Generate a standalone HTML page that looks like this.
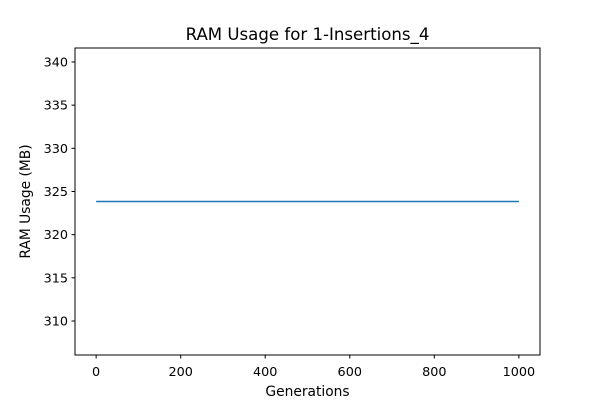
<!DOCTYPE html>
<html><head><meta charset="utf-8"><style>
body{margin:0;background:#fff;}
svg{display:block;font-family:"DejaVu Sans","Liberation Sans",sans-serif;}
</style></head><body>
<svg id="chart" width="600" height="400">
<rect x="0" y="0" width="600" height="400" fill="#fff"/>
<text x="307.5" y="40" text-anchor="middle" font-size="16.6">RAM Usage for 1-Insertions_4</text>
<g id="ticks"></g>
<path id="series" fill="none" stroke="#1f77b4" stroke-width="1.5"/>
<rect x="75" y="48" width="465" height="307" fill="none" stroke="#000" stroke-width="1"/>
<text x="307.5" y="396" text-anchor="middle" font-size="13.8">Generations</text>
<text transform="translate(30,201.5) rotate(-90)" text-anchor="middle" font-size="13.8">RAM Usage (MB)</text>
</svg>
<script>
const generations=[0,200,400,600,800,1000];
const ramValues=[323.84,323.84,323.84,323.84,323.84,323.84];
const xTicks=[0,200,400,600,800,1000];
const yTicks=[310,315,320,325,330,335,340];
const X0=75,X1=540,Y0=48,Y1=355;
const xMin=-50,xMax=1050,yMin=306.06,yMax=341.62;
const xs=v=>X0+(v-xMin)/(xMax-xMin)*(X1-X0);
const ys=v=>Y1-(v-yMin)/(yMax-yMin)*(Y1-Y0);
const NS="http://www.w3.org/2000/svg";
const g=document.getElementById('ticks');
function mk(t,a){const e=document.createElementNS(NS,t);for(const k in a)e.setAttribute(k,a[k]);g.appendChild(e);return e;}
xTicks.forEach(v=>{
 const x=xs(v);
 const l=mk('line',{x1:x,x2:x,y1:Y1,y2:Y1+3.5,stroke:'#000'});
 
 
 const t=mk('text',{x:x,y:Y1+21,'text-anchor':'middle','font-size':'12.8'});
 t.textContent=v;
 
 
});
yTicks.forEach(v=>{
 const y=ys(v);
 const l=mk('line',{x1:X0-3.5,x2:X0,y1:y,y2:y,stroke:'#000'});
 
 
 const t=mk('text',{x:X0-7,y:y+4.5,'text-anchor':'end','font-size':'12.8'});
 t.textContent=v;
 
 
});
document.getElementById('series').setAttribute('d',generations.map((g,i)=>(i?'L':'M')+xs(g)+','+ys(ramValues[i])).join(''));
</script>
</body></html>
